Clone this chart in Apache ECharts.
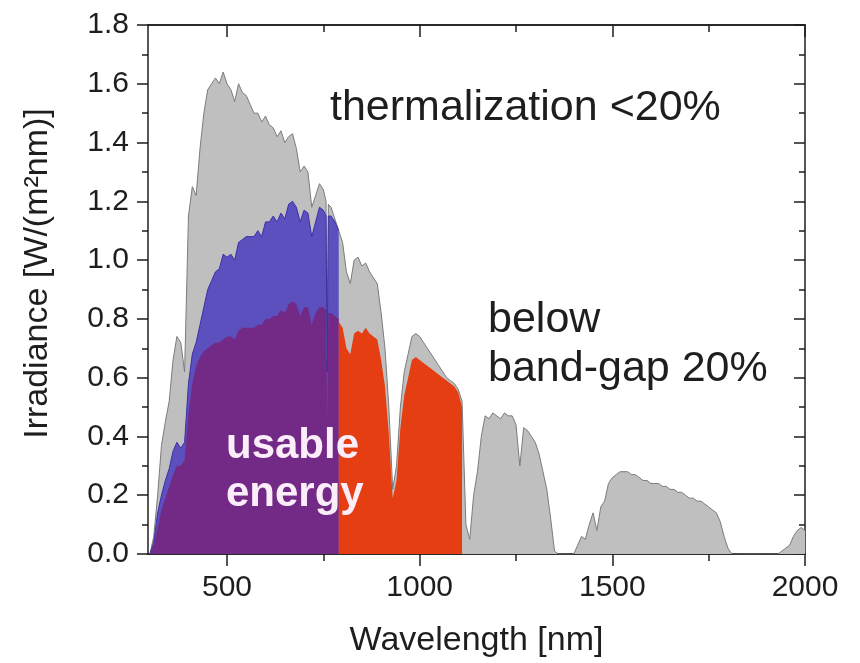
<!DOCTYPE html>
<html lang="en">
<head>
<meta charset="UTF-8">
<title>solar spectrum</title>
<script src="https://cdn.jsdelivr.net/npm/echarts@6/dist/echarts.min.js"></script>
<style>html,body{margin:0;background:#fff}</style>
</head>
<body>
<div id="main" style="width:860px;height:663px;"></div>
<script>
// wavelengths [nm] and irradiance [W/(m2 nm)]
const visWl = [300,310,320,330,340,350,360,370,380,390,400,410,420,430,440,450,460,470,480,490,
    500,510,520,530,540,550,560,570,580,590,600,610,620,630,640,650,660,670,680,690,
    700,710,720,730,740,750,757,760,763,770,780,790];
const grayVis = [0.00,0.06,0.20,0.37,0.45,0.52,0.66,0.74,0.72,0.62,1.15,1.25,1.22,1.38,1.50,1.58,1.60,1.62,1.60,1.64,
    1.60,1.58,1.54,1.60,1.57,1.56,1.53,1.50,1.50,1.47,1.49,1.46,1.45,1.42,1.44,1.40,1.42,1.43,1.38,1.30,
    1.32,1.30,1.18,1.22,1.26,1.24,1.20,0.66,1.19,1.18,1.14,1.10];
const blueVis = [0.00,0.04,0.14,0.20,0.25,0.29,0.35,0.38,0.36,0.38,0.58,0.68,0.72,0.78,0.84,0.90,0.93,0.96,0.97,1.02,
    1.01,1.02,1.00,1.06,1.07,1.08,1.08,1.08,1.10,1.08,1.13,1.13,1.15,1.13,1.16,1.14,1.19,1.20,1.18,1.13,
    1.17,1.16,1.08,1.13,1.18,1.17,1.15,0.62,1.15,1.15,1.13,1.10];
const purpleVis = [0.00,0.03,0.09,0.15,0.19,0.23,0.27,0.30,0.30,0.32,0.48,0.58,0.64,0.67,0.69,0.70,0.71,0.72,0.72,0.73,
    0.74,0.74,0.73,0.76,0.77,0.77,0.77,0.77,0.78,0.78,0.80,0.80,0.81,0.81,0.83,0.82,0.85,0.86,0.85,0.81,
    0.84,0.84,0.78,0.82,0.84,0.84,0.83,0.45,0.82,0.82,0.81,0.80];

const nirWl = [800,810,820,830,840,850,860,870,880,890,900,910,920,930,940,950,960,970,980,990,
    1000,1010,1020,1030,1040,1050,1060,1070,1080,1090,1100,1110];
const grayNir = [1.06,0.96,0.92,1.00,1.01,0.98,0.99,0.96,0.94,0.92,0.82,0.70,0.50,0.22,0.30,0.50,0.62,0.68,0.74,0.75,
    0.74,0.72,0.70,0.68,0.66,0.64,0.62,0.60,0.59,0.58,0.56,0.52];

const redWl = [790,800,810,820,830,840,850,860,870,880,890,900,910,920,930,940,950,960,970,980,990,
    1000,1010,1020,1030,1040,1050,1060,1070,1080,1090,1100,1110];
const redVal = [0.79,0.77,0.70,0.68,0.75,0.76,0.75,0.77,0.75,0.74,0.73,0.66,0.57,0.41,0.19,0.25,0.43,0.54,0.60,0.66,0.67,
    0.66,0.65,0.64,0.63,0.62,0.61,0.60,0.59,0.58,0.57,0.55,0.50];

const irWl = [1120,1130,1140,1150,1160,1170,1180,1190,1200,1210,1220,1230,1240,1250,1260,1270,1280,1290,1300,1310,
    1320,1330,1340,1350,1360,1370,1380,1390,1400,1410,1420,1430,1440,1450,1460,1470,1480,1490,1500,1510,
    1520,1530,1540,1550,1560,1570,1580,1590,1600,1610,1620,1630,1640,1650,1660,1670,1680,1690,1700,1710,
    1720,1730,1740,1750,1760,1770,1780,1790,1800,1810,1820,1830,1840,1850,1860,1870,1880,1890,1900,1910,
    1920,1930,1940,1950,1960,1970,1980,1990,2000];
const grayIr = [0.10,0.05,0.20,0.28,0.40,0.47,0.46,0.48,0.47,0.46,0.48,0.47,0.47,0.44,0.30,0.43,0.42,0.40,0.38,0.34,
    0.28,0.22,0.12,0.01,0,0,0,0,0,0.03,0.06,0.05,0.10,0.14,0.08,0.16,0.18,0.24,0.26,0.27,
    0.28,0.28,0.28,0.27,0.27,0.26,0.25,0.25,0.24,0.24,0.24,0.23,0.23,0.22,0.22,0.21,0.21,0.20,0.19,0.19,
    0.18,0.18,0.17,0.16,0.15,0.14,0.11,0.06,0.02,0,0,0,0,0,0,0,0,0,0,0,
    0,0,0.01,0.02,0.03,0.06,0.08,0.09,0.08];

const majorX = [500, 1000, 1500, 2000];
const minorX = [750, 1250, 1750];

const font = '"Liberation Sans", Arial, Helvetica, sans-serif';
const ink = '#1e1e1e';

function pairs(xs, ys) {
    return xs.map(function (x, i) { return [x, ys[i]]; });
}

function xAx(pos, ticks, len, inside, labels) {
    return {
        type: 'value', position: pos, min: 295, max: 2000,
        splitLine: {show: false},
        axisLine: {show: true, onZero: false, lineStyle: {color: ink, width: 1.5}},
        axisTick: {show: true, inside: inside, length: len, customValues: ticks,
            lineStyle: {color: ink, width: 1.5}},
        axisLabel: labels ? {customValues: ticks, fontSize: 30, fontFamily: font, color: ink, margin: 19,
            formatter: function (v) { return String(v); }}
            : {show: false}
    };
}

function yAx(pos, inside, labels) {
    return {
        type: 'value', position: pos, min: 0, max: 1.8, interval: 0.2,
        splitLine: {show: false},
        axisLine: {show: true, lineStyle: {color: ink, width: 1.5}},
        axisTick: {show: true, inside: inside, length: 11, lineStyle: {color: ink, width: 1.5}},
        minorTick: {show: true, splitNumber: 2, length: 6, lineStyle: {color: ink, width: 1.5}},
        axisLabel: labels ? {fontSize: 30, fontFamily: font, color: ink, margin: 19,
            formatter: function (v) { return v.toFixed(1); }} : {show: false}
    };
}

const chart = echarts.init(document.getElementById('main'));

const bottomMajor = xAx('bottom', majorX, 12, false, true);
bottomMajor.name = 'Wavelength [nm]';
bottomMajor.nameLocation = 'middle';
bottomMajor.nameGap = 70;
bottomMajor.nameTextStyle = {fontSize: 34, fontFamily: font, color: ink};

const leftAx = yAx('left', false, true);
leftAx.name = 'Irradiance [W/(m\u00b2nm)]';
leftAx.nameLocation = 'middle';
leftAx.nameGap = 93;
leftAx.nameTextStyle = {fontSize: 34, fontFamily: font, color: ink, padding: [0, 0, 0, 32]};

function area(name, data, fill, edge, edgeW) {
    return {
        name: name, type: 'line', xAxisIndex: 0, yAxisIndex: 0,
        data: data, showSymbol: false, symbol: 'none',
        lineStyle: {color: edge, width: edgeW},
        areaStyle: {color: fill, opacity: 1}
    };
}

chart.setOption({
    animation: false,
    backgroundColor: '#ffffff',
    grid: {left: 148, right: 55, top: 25, bottom: 108},
    xAxis: [
        bottomMajor,
        xAx('bottom', minorX, 7, false, false),
        xAx('top', majorX, 12, true, false),
        xAx('top', minorX, 7, true, false)
    ],
    yAxis: [leftAx, yAx('right', true, false)],
    series: [
        area('spectrum', pairs(visWl, grayVis).concat(pairs(nirWl, grayNir), pairs(irWl, grayIr)),
            '#bfbfbf', '#7b7b7b', 1),
        area('thermalization', pairs(visWl, blueVis), '#5c50be', '#3b2fa8', 1),
        area('usable', pairs(visWl, purpleVis), '#722a86', '#722a86', 0),
        area('usable nir', pairs(redWl, redVal), '#e53e12', '#e53e12', 0)
    ],
    graphic: [
        {type: 'text', left: 330, top: 87, z: 10,
            style: {text: 'thermalization <20%', font: '43px ' + font, fill: ink}},
        {type: 'text', left: 488, top: 296, z: 10,
            style: {text: 'below\nband-gap 20%', font: '43px ' + font, fill: ink, lineHeight: 49}},
        {type: 'text', left: 226, top: 422, z: 10,
            style: {text: 'usable\nenergy', font: 'bold 42px ' + font, fill: '#fbeefa', lineHeight: 48}}
    ]
});
</script>
</body>
</html>
